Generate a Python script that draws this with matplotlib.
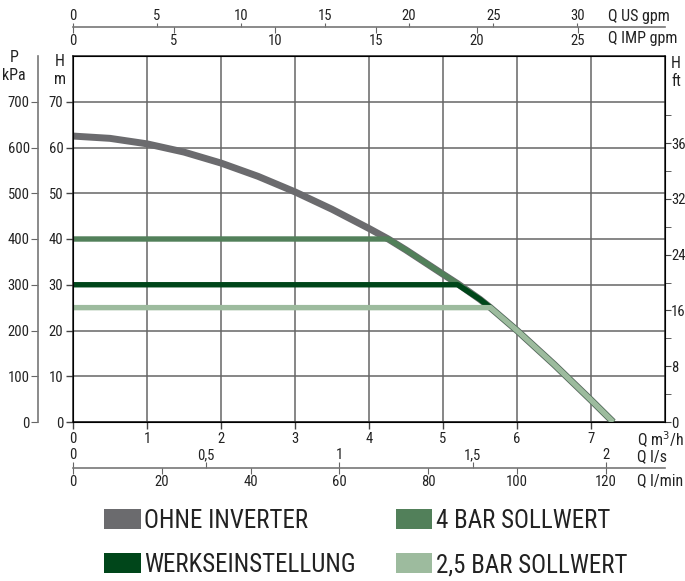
import numpy as np
import matplotlib.pyplot as plt
from matplotlib.patches import Patch
from matplotlib import font_manager

##font - narrow look if available
fonts=font_manager.fontManager.ttflist
names=set(f.name for f in fonts)
fam='DejaVu Sans'
for cand in ['Roboto Condensed','Liberation Sans Narrow','Open Sans Condensed','Noto Sans Condensed']:
    if cand in names:
        fam=cand;break
plt.rcParams['font.family']=[fam,'DejaVu Sans']
plt.rcParams['font.stretch']='condensed'
txtcol='#222222'

##data (Q in m3/h, H in m)
q_curve=[0,0.5,1,1.5,2,2.5,3,3.5,4,4.26,4.5,5,5.2,5.5,5.64,6,6.5,7,7.3]
h_curve=[62.5,62.0,60.8,59.0,56.6,53.7,50.3,46.5,42.3,40,37.6,32.3,30.2,26.8,25,20,12.6,4.8,0]
q_4bar=[0,4.26,4.5,5,5.2,5.5,5.64,6,6.5,7,7.3]
h_4bar=[40,40,37.6,32.3,30.2,26.8,25,20,12.6,4.8,0]
q_werk=[0,5.2,5.5,5.64,6,6.5,7,7.3]
h_werk=[30,30,26.8,25,20,12.6,4.8,0]
q_25bar=[0,5.64,6,6.5,7,7.3]
h_25bar=[25,25,20,12.6,4.8,0]

labels=['OHNE INVERTER','WERKSEINSTELLUNG','4 BAR SOLLWERT','2,5 BAR SOLLWERT']
colors=['#6b6b6e','#00461a','#52805a','#9dbb9e']

us_ticks=[0,5,10,15,20,25,30]
imp_ticks=[0,5,10,15,20,25]
ls_ticks=[0,0.5,1,1.5,2]
ls_labels=['0','0,5','1','1,5','2']
lmin_ticks=[0,20,40,60,80,100,120]
ft_major=[0,40,80,120,160,200]
ft_labels=['0','8','16','24','32','36']
ft_minor=[20,60,100,140,180,220]

qmax=8
hmax=80

W,Hpx=685,581
fig=plt.figure(figsize=(W/100,Hpx/100),dpi=100)
L=73/W; B=(Hpx-422)/Hpx; AW=592/W; AH=366/Hpx
ax=fig.add_axes([L,B,AW,AH])

ax.plot(q_curve,h_curve,color=colors[0],lw=5,solid_capstyle='butt',zorder=3)
ax.plot(q_4bar,h_4bar,color=colors[2],lw=3.9,solid_capstyle='butt',zorder=4)
ax.plot(q_werk,h_werk,color=colors[1],lw=3.9,solid_capstyle='butt',zorder=5)
ax.plot(q_25bar,h_25bar,color=colors[3],lw=3.9,solid_capstyle='butt',zorder=6)

ax.set_xlim(0,qmax)
ax.set_ylim(0,hmax)
ax.set_xticks(range(0,8))
ax.set_yticks(range(0,80,10))
ax.grid(True,color='#666666',lw=1.1)
ax.tick_params(direction='out',length=5,width=1,color='#444444',labelsize=10.5,labelcolor=txtcol,pad=2)
for s in ax.spines.values():
    s.set_color('#222222');s.set_linewidth(1.1)

##right axis in ft
axr=ax.twinx()
axr.set_ylim(0,hmax/0.3048)
axr.set_yticks(ft_major)
axr.set_yticklabels(ft_labels)
axr.set_yticks(ft_minor,minor=True)
axr.tick_params(which='both',direction='out',length=4,color='#444444',labelsize=10.5,labelcolor=txtcol,pad=0.5)

##P kPa axis
axp=fig.add_axes([38/W,B,0,AH])
axp.set_ylim(0,hmax*10)
axp.set_yticks(range(0,800,100))
axp.set_xticks([])
for k in ['top','bottom','right']:
    axp.spines[k].set_visible(False)
axp.spines['left'].set_color('#777777');axp.spines['left'].set_linewidth(1.2)
axp.tick_params(direction='out',length=5,color='#666666',labelsize=10.5,labelcolor=txtcol,pad=1)

##top gpm axes
ytop=(Hpx-27)/Hpx
axus=fig.add_axes([L,ytop,AW,0])
axus.set_xlim(0,qmax/0.22712)
axus.set_xticks(us_ticks)
axus.xaxis.set_ticks_position('top')
axus.set_yticks([])
for k in ['left','right','bottom']:
    axus.spines[k].set_visible(False)
axus.spines['top'].set_color('#777777');axus.spines['top'].set_linewidth(1.2)
axus.tick_params(direction='out',length=3,color='#666666',labelsize=10.5,labelcolor=txtcol,pad=0)

aximp=fig.add_axes([L,ytop,AW,0])
aximp.patch.set_visible(False)
aximp.set_xlim(0,qmax/0.27277)
aximp.set_xticks(imp_ticks)
aximp.set_yticks([])
for k in ['left','right','top','bottom']:
    aximp.spines[k].set_visible(False)
aximp.tick_params(direction='out',length=4,color='#666666',labelsize=10.5,labelcolor=txtcol,pad=1)

##bottom l/s and l/min axes
ybot=(Hpx-468)/Hpx
axls=fig.add_axes([L,ybot,AW,0])
axls.set_xlim(0,qmax/3.6)
axls.set_xticks(ls_ticks)
axls.set_xticklabels(ls_labels)
axls.xaxis.set_ticks_position('top')
axls.set_yticks([])
for k in ['left','right','bottom']:
    axls.spines[k].set_visible(False)
axls.spines['top'].set_color('#777777');axls.spines['top'].set_linewidth(1.2)
axls.tick_params(direction='out',length=4,color='#666666',labelsize=10.5,labelcolor=txtcol,pad=0)

axlm=fig.add_axes([L,ybot,AW,0])
axlm.patch.set_visible(False)
axlm.set_xlim(0,qmax*1000/60)
axlm.set_xticks(lmin_ticks)
axlm.set_yticks([])
for k in ['left','right','top','bottom']:
    axlm.spines[k].set_visible(False)
axlm.tick_params(direction='out',length=4,color='#666666',labelsize=10.5,labelcolor=txtcol,pad=1)

##unit labels
def ftxt(x,y,s,ha='left'):
    fig.text(x/W,1-y/Hpx,s,ha=ha,va='center',fontsize=11.5,color=txtcol)
ftxt(608,16,'Q US gpm')
ftxt(608,39,'Q IMP gpm')
ftxt(637,440,'Q m$^3$/h')
ftxt(637,457,'Q l/s')
ftxt(637,481,'Q l/min')
ftxt(14,58,'P',ha='center'); ftxt(14,76,'kPa',ha='center')
ftxt(60,62,'H',ha='center'); ftxt(60,79,'m',ha='center')
ftxt(676,63,'H',ha='center'); ftxt(676,82,'ft',ha='center')

##legend
handles=[Patch(facecolor=c,edgecolor='none') for c in colors]
fig.legend(handles,labels,ncol=2,loc='center',bbox_to_anchor=(366/W,1-543/Hpx),
           frameon=False,fontsize=18,handlelength=1.45,handleheight=0.84,
           handletextpad=0.15,columnspacing=1.6,labelspacing=0.8,labelcolor=txtcol)

fig.savefig('out.png',dpi=100)
